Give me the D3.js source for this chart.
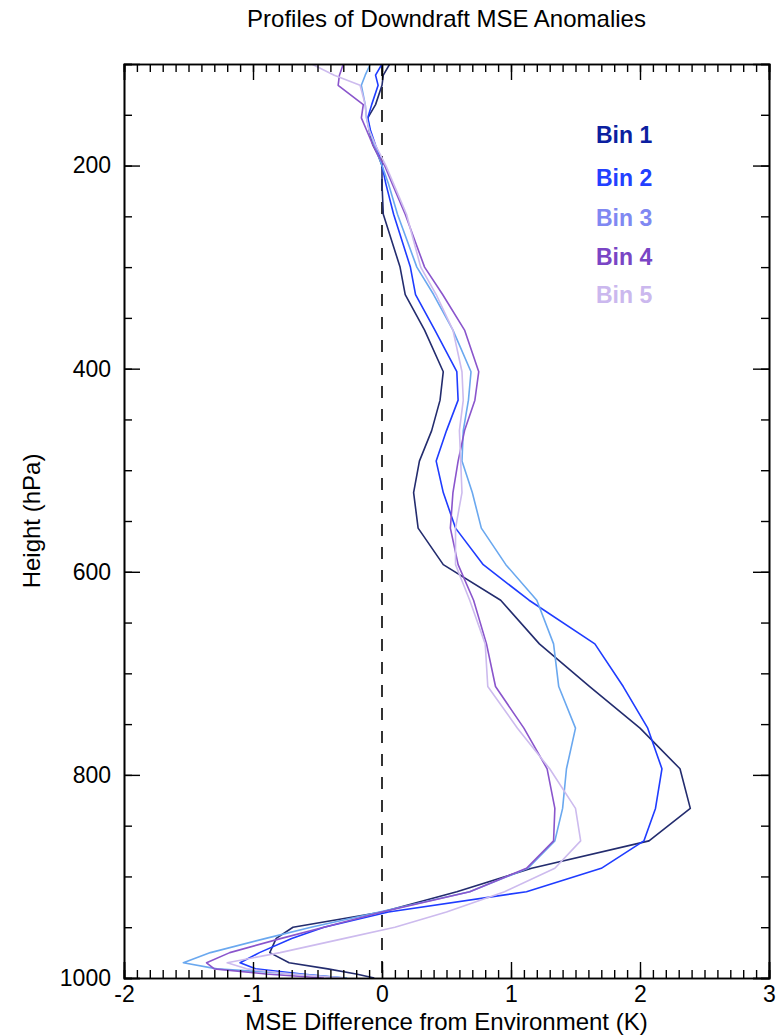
<!DOCTYPE html>
<html>
<head>
<meta charset="utf-8">
<script src="https://cdn.jsdelivr.net/npm/d3@7"></script>
<style>
  html, body { margin: 0; padding: 0; background: #fff; }
  svg { display: block; }
  text { font-family: "Liberation Sans", Arial, Helvetica, sans-serif; }
</style>
</head>
<body>
<svg id="chart" width="782" height="1035"></svg>
<script>
// ---- Data ----
const levels = [100, 111, 121, 140, 153, 165, 180, 190, 200, 218, 248, 300, 327, 362, 403, 431, 461, 491, 522, 557, 593, 628, 671, 713, 754, 794, 833, 865, 892, 915, 935, 950, 961, 975, 985, 991, 996, 1000];
const bin1 = [0.06, 0.01, 0.0, -0.05, -0.11, -0.10, -0.07, -0.03, 0.0, 0.0, 0.01, 0.14, 0.18, 0.33, 0.475, 0.45, 0.385, 0.29, 0.245, 0.28, 0.475, 0.92, 1.22, 1.61, 2.0, 2.31, 2.39, 2.07, 1.16, 0.58, 0.0, -0.69, -0.82, -0.87, -0.72, -0.42, -0.2, -0.06];
const bin2 = [0.0, -0.05, -0.03, -0.08, -0.11, -0.09, -0.05, -0.02, 0.0, 0.03, 0.09, 0.22, 0.26, 0.41, 0.58, 0.59, 0.5, 0.42, 0.475, 0.57, 0.785, 1.14, 1.65, 1.87, 2.06, 2.17, 2.12, 2.03, 1.70, 1.12, 0.05, -0.45, -0.7, -0.95, -1.1, -0.98, -0.62, -0.3];
const bin3 = [-0.09, -0.13, -0.16, -0.13, -0.12, -0.1, -0.06, -0.03, 0.0, 0.05, 0.12, 0.27, 0.4, 0.55, 0.69, 0.67, 0.63, 0.62, 0.70, 0.77, 0.96, 1.2, 1.33, 1.37, 1.5, 1.43, 1.40, 1.34, 1.13, 0.68, -0.02, -0.55, -0.9, -1.33, -1.54, -1.28, -0.66, -0.27];
const bin4 = [-0.3, -0.33, -0.34, -0.145, -0.16, -0.12, -0.07, -0.03, 0.02, 0.08, 0.18, 0.33, 0.47, 0.64, 0.75, 0.72, 0.64, 0.59, 0.55, 0.53, 0.59, 0.71, 0.81, 0.88, 1.1, 1.28, 1.34, 1.33, 1.12, 0.68, 0.0, -0.45, -0.78, -1.18, -1.36, -1.3, -0.9, -0.45];
const bin5 = [-0.545, -0.37, -0.17, -0.13, -0.12, -0.1, -0.05, -0.01, 0.03, 0.09, 0.19, 0.3, 0.42, 0.55, 0.62, 0.63, 0.6, 0.61, 0.62, 0.57, 0.57, 0.68, 0.8, 0.82, 1.05, 1.3, 1.5, 1.54, 1.34, 0.95, 0.5, 0.1, -0.29, -0.79, -1.2, -1.05, -0.7, -0.3];
const binNames = ["Bin 1", "Bin 2", "Bin 3", "Bin 4", "Bin 5"];
const xTicks = [-2, -1, 0, 1, 2, 3];
const yTicks = [200, 400, 600, 800, 1000];

// ---- Styles ----
const lineColors = ["#232c6e", "#1f3cff", "#6aa8ef", "#8a55cc", "#cdbbee"];
const labelColors = ["#0c1fa0", "#2340ff", "#8088f2", "#7a45c5", "#cbb8ee"];

const svg = d3.select("#chart");
const L = 124, R = 769, T = 64, B = 978;
const x = d3.scaleLinear().domain([-2, 3]).range([L, R]);
const y = d3.scaleLinear().domain([100, 1000]).range([T, B]);

const series = [bin1, bin2, bin3, bin4, bin5].map((vals, i) => ({
  name: binNames[i],
  pts: vals.map((v, j) => ({ v: v, p: levels[j] }))
}));

svg.append("defs").append("clipPath").attr("id", "clip")
  .append("rect").attr("x", L).attr("y", T).attr("width", R - L).attr("height", B - T);

// zero dashed line
svg.append("line")
  .attr("x1", x(0)).attr("x2", x(0)).attr("y1", T).attr("y2", B)
  .attr("stroke", "#000").attr("stroke-width", 1.6)
  .attr("stroke-dasharray", "12,11");

// profile lines
const line = d3.line().x(d => x(d.v)).y(d => y(d.p));
svg.append("g").attr("clip-path", "url(#clip)")
  .selectAll("path").data(series).join("path")
  .attr("d", d => line(d.pts))
  .attr("fill", "none")
  .attr("stroke", (d, i) => lineColors[i])
  .attr("stroke-width", 1.6)
  .attr("stroke-linejoin", "round");

// axes: box with inward ticks
const xMinor = d3.range(-20, 31).map(k => k / 10);
const yMinor = d3.range(100, 1001, 50);
const fmt = d => String(d);

const axB = d3.axisBottom(x).tickValues(xMinor).tickSize(-8).tickFormat("");
const axT = d3.axisTop(x).tickValues(xMinor).tickSize(-8).tickFormat("");
const axBM = d3.axisBottom(x).tickValues(xTicks).tickSize(-16).tickPadding(8).tickFormat(fmt);
const axTM = d3.axisTop(x).tickValues(xTicks).tickSize(-16).tickFormat("");
const axL = d3.axisLeft(y).tickValues(yMinor).tickSize(-8).tickFormat("");
const axR = d3.axisRight(y).tickValues(yMinor).tickSize(-8).tickFormat("");
const axLM = d3.axisLeft(y).tickValues(yTicks).tickSize(-16).tickPadding(13).tickFormat(fmt);
const axRM = d3.axisRight(y).tickValues(yTicks).tickSize(-16).tickFormat("");

function styleAxis(g) {
  g.selectAll(".domain").attr("stroke", "#000").attr("stroke-width", 1.6);
  g.selectAll(".tick line").attr("stroke", "#000").attr("stroke-width", 1.4);
  g.selectAll(".tick text").attr("fill", "#000").style("font-size", "23px")
    .style("font-family", "'Liberation Sans', Arial, sans-serif");
}
[[axB, `translate(0,${B})`], [axBM, `translate(0,${B})`],
 [axT, `translate(0,${T})`], [axTM, `translate(0,${T})`],
 [axL, `translate(${L},0)`], [axLM, `translate(${L},0)`],
 [axR, `translate(${R},0)`], [axRM, `translate(${R},0)`]].forEach(([ax, tr]) => {
  svg.append("g").attr("transform", tr).call(ax).call(styleAxis);
});

// title
svg.append("text").attr("x", (L + R) / 2).attr("y", 27)
  .attr("text-anchor", "middle").style("font-size", "24px").attr("fill", "#000")
  .text("Profiles of Downdraft MSE Anomalies");

// x axis title
svg.append("text").attr("x", (L + R) / 2).attr("y", 1030)
  .attr("text-anchor", "middle").style("font-size", "24px").attr("fill", "#000")
  .text("MSE Difference from Environment (K)");

// y axis title
svg.append("text").attr("transform", `translate(40,${(T + B) / 2}) rotate(-90)`)
  .attr("text-anchor", "middle").style("font-size", "24px").attr("fill", "#000")
  .text("Height (hPa)");

// legend
const legendY = [143, 186, 226, 265, 303];
svg.append("g").selectAll("text").data(binNames).join("text")
  .attr("x", 596).attr("y", (d, i) => legendY[i])
  .attr("fill", (d, i) => labelColors[i])
  .style("font-size", "23px").style("font-weight", "bold")
  .text(d => d);
</script>
</body>
</html>
